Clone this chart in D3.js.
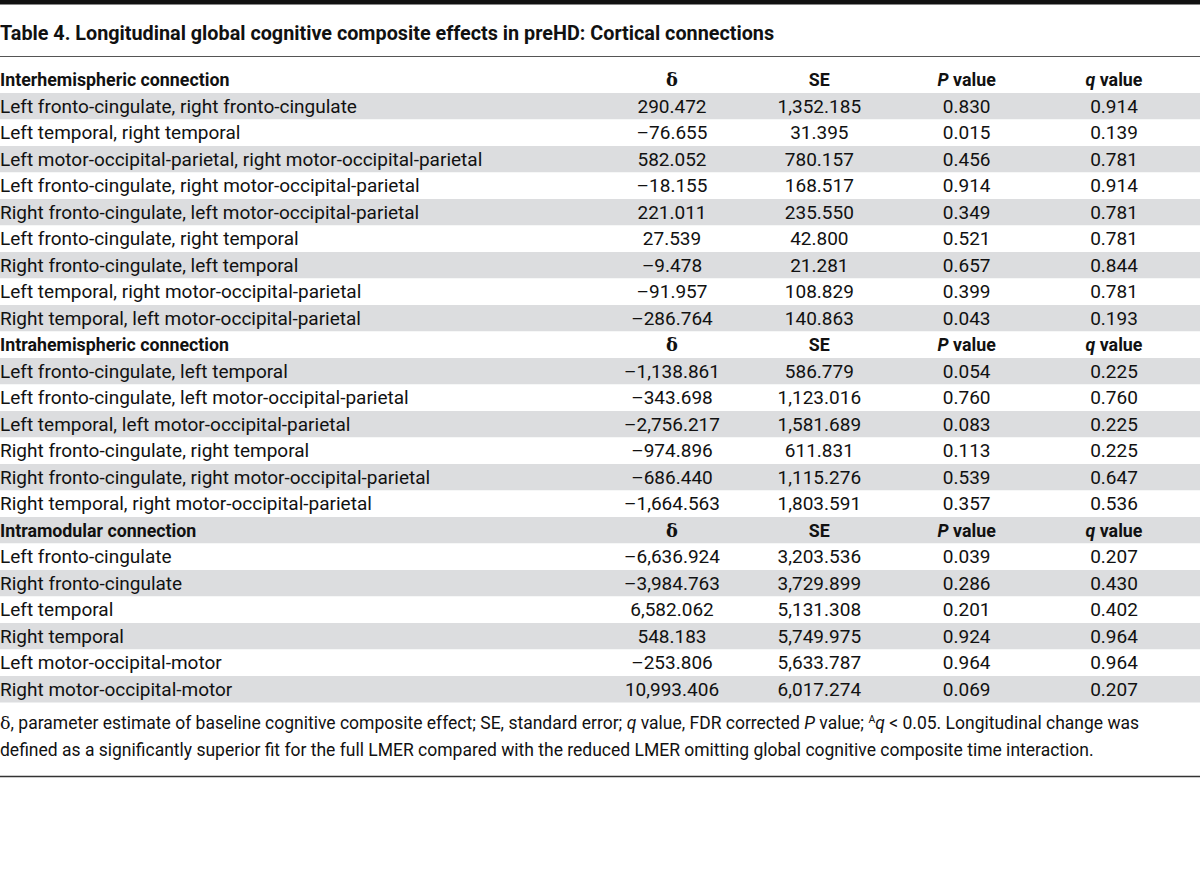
<!DOCTYPE html>
<html><head><meta charset="utf-8">
<script src="https://cdn.jsdelivr.net/npm/d3@7"></script>
<style>
html,body{margin:0;padding:0;background:#fff;}
svg{display:block;}
</style></head>
<body>
<svg id="chart" width="1200" height="872"></svg>
<script>
const title = "Table 4. Longitudinal global cognitive composite effects in preHD: Cortical connections";
const columns = ["δ", "SE", "P value", "q value"];
const groups = ["Interhemispheric connection", "Intrahemispheric connection", "Intramodular connection"];

const interLabels = [
  "Left fronto-cingulate, right fronto-cingulate",
  "Left temporal, right temporal",
  "Left motor-occipital-parietal, right motor-occipital-parietal",
  "Left fronto-cingulate, right motor-occipital-parietal",
  "Right fronto-cingulate, left motor-occipital-parietal",
  "Left fronto-cingulate, right temporal",
  "Right fronto-cingulate, left temporal",
  "Left temporal, right motor-occipital-parietal",
  "Right temporal, left motor-occipital-parietal"
];
const interDelta = ["290.472","–76.655","582.052","–18.155","221.011","27.539","–9.478","–91.957","–286.764"];
const interSE = ["1,352.185","31.395","780.157","168.517","235.550","42.800","21.281","108.829","140.863"];
const interP = ["0.830","0.015","0.456","0.914","0.349","0.521","0.657","0.399","0.043"];
const interQ = ["0.914","0.139","0.781","0.914","0.781","0.781","0.844","0.781","0.193"];

const intraLabels = [
  "Left fronto-cingulate, left temporal",
  "Left fronto-cingulate, left motor-occipital-parietal",
  "Left temporal, left motor-occipital-parietal",
  "Right fronto-cingulate, right temporal",
  "Right fronto-cingulate, right motor-occipital-parietal",
  "Right temporal, right motor-occipital-parietal"
];
const intraDelta = ["–1,138.861","–343.698","–2,756.217","–974.896","–686.440","–1,664.563"];
const intraSE = ["586.779","1,123.016","1,581.689","611.831","1,115.276","1,803.591"];
const intraP = ["0.054","0.760","0.083","0.113","0.539","0.357"];
const intraQ = ["0.225","0.760","0.225","0.225","0.647","0.536"];

const modLabels = [
  "Left fronto-cingulate",
  "Right fronto-cingulate",
  "Left temporal",
  "Right temporal",
  "Left motor-occipital-motor",
  "Right motor-occipital-motor"
];
const modDelta = ["–6,636.924","–3,984.763","6,582.062","548.183","–253.806","10,993.406"];
const modSE = ["3,203.536","3,729.899","5,131.308","5,749.975","5,633.787","6,017.274"];
const modP = ["0.039","0.286","0.201","0.924","0.964","0.069"];
const modQ = ["0.207","0.430","0.402","0.964","0.964","0.207"];

// Build row table
const sections = [
  {name: groups[0], labels: interLabels, vals: [interDelta, interSE, interP, interQ]},
  {name: groups[1], labels: intraLabels, vals: [intraDelta, intraSE, intraP, intraQ]},
  {name: groups[2], labels: modLabels, vals: [modDelta, modSE, modP, modQ]}
];
const rows = [];
sections.forEach(s => {
  rows.push({header: true, label: s.name, cells: columns});
  s.labels.forEach((l, i) => rows.push({header: false, label: l, cells: s.vals.map(v => v[i])}));
});

const W = 1200;
const FONT = "Roboto, 'Open Sans', sans-serif";
const BODY = 19, BOLD = 17.8;
const svg = d3.select("#chart");

// Top black bar
svg.append("rect").attr("x", 0).attr("y", 0).attr("width", W).attr("height", 4.5).attr("fill", "#111");

svg.append("text").attr("x", 0).attr("y", 40)
  .attr("font-family", FONT).attr("font-weight", 700).attr("font-size", 19.8)
  .attr("fill", "#111").text(title);

svg.append("line").attr("x1", 0).attr("x2", W).attr("y1", 56.5).attr("y2", 56.5)
  .attr("stroke", "#555").attr("stroke-width", 1.2);

const y = d3.scaleBand().domain(d3.range(rows.length)).range([66.5, 66.5 + 26.5 * rows.length]).padding(0);
const x = d3.scalePoint().domain(d3.range(columns.length)).range([672, 1114]);

const g = svg.append("g");
const rowG = g.selectAll("g.row").data(rows).join("g").attr("class", "row")
  .attr("transform", (d, i) => `translate(0,${y(i)})`);

rowG.append("rect").attr("x", 0).attr("width", W).attr("height", y.bandwidth())
  .attr("fill", (d, i) => i % 2 === 1 ? "#dcdddf" : "#ffffff");

rowG.append("text").attr("x", 0).attr("y", y.bandwidth() / 2 + 6.5)
  .attr("font-family", FONT).attr("font-size", d => d.header ? BOLD : BODY)
  .attr("font-weight", d => d.header ? 700 : 400)
  .attr("fill", "#111").text(d => d.label);

rowG.each(function(d) {
  const sel = d3.select(this);
  d.cells.forEach((c, j) => {
    const t = sel.append("text").attr("x", x(j)).attr("y", y.bandwidth() / 2 + 6.5)
      .attr("text-anchor", "middle").attr("font-family", FONT).attr("font-size", d.header ? BOLD : BODY)
      .attr("fill", "#111").attr("font-weight", d.header ? 700 : 400);
    if (d.header && (c === "P value" || c === "q value")) {
      t.append("tspan").attr("font-style", "italic").text(c[0]);
      t.append("tspan").text(c.slice(1));
    } else if (d.header && c === "δ") {
      t.attr("font-family", "'DejaVu Serif', serif").text(c);
    } else {
      t.text(c);
    }
  });
});

// Footnote
const fn = svg.append("g").attr("font-family", FONT).attr("font-size", 17.5).attr("fill", "#111");
const l1 = fn.append("text").attr("x", 0).attr("y", 729);
l1.append("tspan").attr("font-family", "'DejaVu Serif', serif").text("δ");
l1.append("tspan").text(", parameter estimate of baseline cognitive composite effect; SE, standard error; ");
l1.append("tspan").attr("font-style", "italic").text("q");
l1.append("tspan").text(" value, FDR corrected ");
l1.append("tspan").attr("font-style", "italic").text("P");
l1.append("tspan").text(" value; ");
l1.append("tspan").attr("font-size", 10.5).attr("dy", -6).text("A");
l1.append("tspan").attr("font-style", "italic").attr("dy", 6).text("q");
l1.append("tspan").text(" < 0.05. Longitudinal change was");
fn.append("text").attr("x", 0).attr("y", 756)
  .text("defined as a significantly superior fit for the full LMER compared with the reduced LMER omitting global cognitive composite time interaction.");

svg.append("line").attr("x1", 0).attr("x2", W).attr("y1", 776.5).attr("y2", 776.5)
  .attr("stroke", "#333").attr("stroke-width", 1.5);
</script>
</body></html>
